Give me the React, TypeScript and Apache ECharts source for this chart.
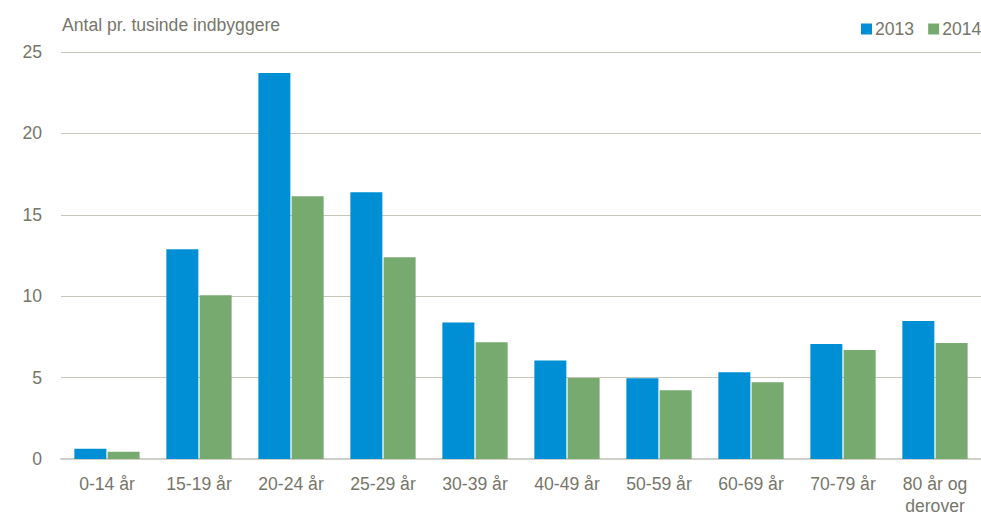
import React, { useEffect, useRef } from "react";
import * as echarts from "echarts";

const categories = [
  "0-14 år",
  "15-19 år",
  "20-24 år",
  "25-29 år",
  "30-39 år",
  "40-49 år",
  "50-59 år",
  "60-69 år",
  "70-79 år",
  "80 år og\nderover",
];
const values2013 = [0.63, 12.88, 23.71, 16.39, 8.39, 6.05, 4.96, 5.33, 7.07, 8.48];
const values2014 = [0.44, 10.06, 16.14, 12.39, 7.17, 4.98, 4.22, 4.71, 6.69, 7.12];
const yTicks = { min: 0, max: 25, interval: 5 };
const titleText = "Antal pr. tusinde indbyggere";

const TEXT = "#76766a";
const FONT = "'Liberation Sans', Arial, sans-serif";
const FS = 17.6;

export default function App() {
  const ref = useRef<HTMLDivElement>(null);
  useEffect(() => {
    if (!ref.current) return;
    const chart = echarts.init(ref.current, undefined, { renderer: "svg" });
    chart.setOption({
      animation: false,
      textStyle: { fontFamily: FONT },
      grid: { left: 61, right: 0, top: 52, bottom: 65, containLabel: false },
      graphic: [
        {
          type: "text",
          x: 62,
          y: 25,
          style: {
            text: titleText,
            fill: TEXT,
            font: `${FS}px ${FONT}`,
            verticalAlign: "middle",
          },
        },
      ],
      legend: {
        left: 856,
        top: 15,
        width: 300,
        orient: "horizontal",
        itemWidth: 11,
        itemHeight: 11,
        itemGap: 14,
        icon: "rect",
        textStyle: { color: TEXT, fontSize: FS, fontFamily: FONT, padding: [0, 0, 0, -2] },
        data: ["2013", "2014"],
      },
      xAxis: {
        type: "category",
        data: categories,
        axisLine: { lineStyle: { color: "#cfcfc7", width: 2 } },
        axisTick: { show: false },
        axisLabel: {
          interval: 0,
          color: TEXT,
          fontSize: FS,
          fontFamily: FONT,
          margin: 14,
          lineHeight: 22,
        },
      },
      yAxis: {
        type: "value",
        min: yTicks.min,
        max: yTicks.max,
        interval: yTicks.interval,
        axisLine: { show: false },
        axisTick: { show: false },
        axisLabel: { color: TEXT, fontSize: FS, fontFamily: FONT, margin: 19 },
        splitLine: { lineStyle: { color: "#c6c6ba", width: 1 } },
      },
      series: [
        {
          name: "2013",
          type: "bar",
          data: values2013,
          itemStyle: { color: "#008fd5" },
          barWidth: 32,
          barGap: "4%",
        },
        {
          name: "2014",
          type: "bar",
          data: values2014,
          itemStyle: { color: "#77aa6f" },
          barWidth: 32,
          barGap: "4%",
        },
      ],
    });
    return () => chart.dispose();
  }, []);
  return (
    <div
      ref={ref}
      style={{ position: "absolute", left: 0, top: 0, width: 981, height: 524 }}
    />
  );
}
